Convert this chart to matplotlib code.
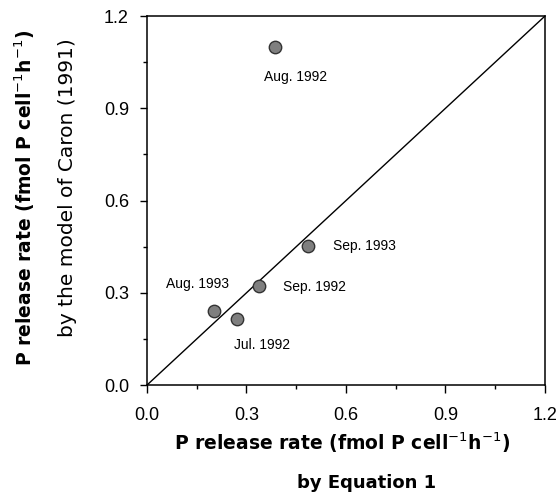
import matplotlib
matplotlib.use("Agg")
import matplotlib.pyplot as plt
from matplotlib.ticker import MultipleLocator

# Data
labels = ["Aug. 1992", "Sep. 1993", "Sep. 1992", "Aug. 1993", "Jul. 1992"]
eq1_rate = [0.385, 0.485, 0.337, 0.202, 0.271]
caron_rate = [1.098, 0.453, 0.322, 0.241, 0.215]
ticks = [0.0, 0.3, 0.6, 0.9, 1.2]
tick_labels = ["0.0", "0.3", "0.6", "0.9", "1.2"]

# label placement (offset in pixels, alignment)
label_offsets = [(21, -30, "center"), (25, 0, "left"), (24, -1, "left"),
                 (15, 27, "right"), (25, -26, "center")]

fig = plt.figure(figsize=(5.6, 5.04), dpi=100)
ax = fig.add_axes([0.2625, 0.236, 0.7105, 0.732])

ax.plot([0, 1.2], [0, 1.2], color="black", lw=1.0, zorder=1)
ax.scatter(eq1_rate, caron_rate, s=80, facecolor="#7f7f7f", edgecolor="#333333",
           linewidth=1.0, zorder=3)

for lab, x, y, (dx, dy, ha) in zip(labels, eq1_rate, caron_rate, label_offsets):
    ax.annotate(lab, (x, y), xytext=(dx, dy), textcoords="offset pixels",
                ha=ha, va="center", fontsize=10, family="Liberation Sans")

ax.set_xlim(0, 1.2)
ax.set_ylim(0, 1.2)
ax.set_xticks(ticks)
ax.set_xticklabels(tick_labels)
ax.set_yticks(ticks)
ax.set_yticklabels(tick_labels)
ax.xaxis.set_minor_locator(MultipleLocator(0.15))
ax.yaxis.set_minor_locator(MultipleLocator(0.15))
for lbl in ax.get_xticklabels() + ax.get_yticklabels():
    lbl.set_family("Liberation Sans")
    lbl.set_fontsize(13)
ax.tick_params(axis="x", which="major", direction="out", length=6, width=1.0, pad=10)
ax.tick_params(axis="y", which="major", direction="out", length=5, width=1.0, pad=8)
ax.tick_params(which="minor", direction="out", length=3, width=1.0)
for sp in ax.spines.values():
    sp.set_linewidth(1.1)

fig.text(0.045, 0.607, "P release rate (fmol P cell$^{-1}$h$^{-1}$)", rotation=90,
         ha="center", va="center", fontsize=13.5, fontweight="bold", family="DejaVu Sans")
fig.text(0.121, 0.627, "by the model of Caron (1991)", rotation=90,
         ha="center", va="center", fontsize=14.5, family="DejaVu Sans")
fig.text(0.611, 0.121, "P release rate (fmol P cell$^{-1}$h$^{-1}$)",
         ha="center", va="center", fontsize=13.5, fontweight="bold", family="DejaVu Sans")
fig.text(0.654, 0.042, "by Equation 1",
         ha="center", va="center", fontsize=13, fontweight="bold", family="DejaVu Sans")

fig.savefig("out.png", dpi=100)
